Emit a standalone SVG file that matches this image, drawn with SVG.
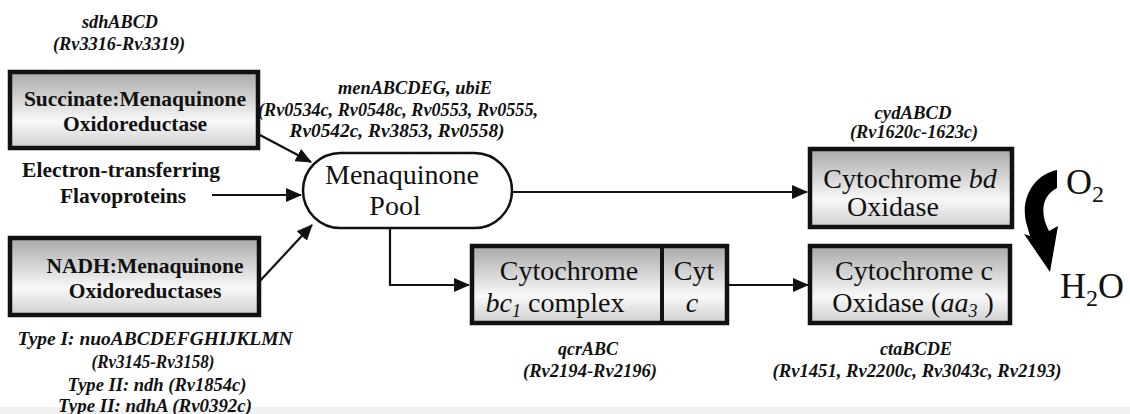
<svg xmlns="http://www.w3.org/2000/svg" width="1130" height="414" viewBox="0 0 1130 414">
<style>
.bl{font-family:"Liberation Serif",serif;font-weight:bold;font-size:21.5px;fill:#111;text-anchor:middle}
.gn{font-family:"Liberation Serif",serif;font-weight:bold;font-style:italic;font-size:18px;fill:#111;text-anchor:middle}
.rg{font-family:"Liberation Serif",serif;font-size:28px;fill:#111;text-anchor:middle}
.ox{font-family:"Liberation Serif",serif;font-size:36px;fill:#111}
.box{fill:url(#gr);stroke:#111;stroke-width:4.5}
.ln{fill:none;stroke:#111;stroke-width:2.2}
</style>
<defs>
<linearGradient id="gr" x1="0" y1="0" x2="0" y2="1">
<stop offset="0" stop-color="#a9a9a9"/>
<stop offset="0.65" stop-color="#f8f8f8"/>
<stop offset="1" stop-color="#cfcfcf"/>
</linearGradient>
<marker id="ah" markerUnits="userSpaceOnUse" markerWidth="16" markerHeight="14" refX="15" refY="7" orient="auto">
<path d="M0,0 L16,7 L0,14 Z" fill="#111"/>
</marker>
</defs>
<rect x="0" y="0" width="1130" height="414" fill="#fff"/>
<rect x="0" y="407" width="1130" height="7" fill="#f0f0f0"/>

<g id="connectors">
<line class="ln" x1="258" y1="134" x2="311" y2="162" marker-end="url(#ah)"/>
<line class="ln" x1="212" y1="195" x2="301" y2="195" marker-end="url(#ah)"/>
<line class="ln" x1="259" y1="282" x2="312" y2="225" marker-end="url(#ah)"/>
<line class="ln" x1="512" y1="192" x2="807" y2="192" marker-end="url(#ah)"/>
<polyline class="ln" points="390,228 390,285 469,285" marker-end="url(#ah)"/>
<line class="ln" x1="727" y1="285" x2="808" y2="285" marker-end="url(#ah)"/>
</g>

<g id="sdh-label">
<text class="gn" x="120" y="28" textLength="76" lengthAdjust="spacingAndGlyphs">sdhABCD</text>
<text class="gn" x="119" y="50" textLength="132" lengthAdjust="spacingAndGlyphs">(Rv3316-Rv3319)</text>
</g>

<g id="succinate">
<rect class="box" x="10" y="72" width="248" height="76"/>
<text class="bl" x="135" y="106">Succinate:Menaquinone</text>
<text class="bl" x="135" y="131">Oxidoreductase</text>
</g>

<g id="etf">
<text class="bl" x="121" y="177">Electron-transferring</text>
<text class="bl" x="123" y="203">Flavoproteins</text>
</g>

<g id="nadh">
<rect class="box" x="10" y="238" width="249" height="77"/>
<text class="bl" x="145" y="273">NADH:Menaquinone</text>
<text class="bl" x="145" y="298">Oxidoreductases</text>
</g>

<g id="nadh-label">
<text class="gn" x="155" y="345" textLength="275" lengthAdjust="spacingAndGlyphs">Type I: nuoABCDEFGHIJKLMN</text>
<text class="gn" x="153" y="368" textLength="123" lengthAdjust="spacingAndGlyphs">(Rv3145-Rv3158)</text>
<text class="gn" x="157" y="391" textLength="179" lengthAdjust="spacingAndGlyphs">Type II: ndh (Rv1854c)</text>
<text class="gn" x="155" y="412" textLength="194" lengthAdjust="spacingAndGlyphs">Type II: ndhA (Rv0392c)</text>
</g>

<g id="men-label">
<text class="gn" x="415" y="94" textLength="154" lengthAdjust="spacingAndGlyphs">menABCDEG, ubiE</text>
<text class="gn" x="398" y="116" textLength="280" lengthAdjust="spacingAndGlyphs">(Rv0534c, Rv0548c, Rv0553, Rv0555,</text>
<text class="gn" x="397" y="137" textLength="215" lengthAdjust="spacingAndGlyphs">Rv0542c, Rv3853, Rv0558)</text>
</g>

<g id="menaquinone-pool">
<rect x="303" y="153" width="209" height="75" rx="37.5" ry="37.5" fill="#fff" stroke="#111" stroke-width="2.5"/>
<text class="rg" x="402" y="184">Menaquinone</text>
<text class="rg" x="395" y="215">Pool</text>
</g>

<g id="cyd-label">
<text class="gn" x="913" y="119" font-size="16" textLength="77" lengthAdjust="spacingAndGlyphs">cydABCD</text>
<text class="gn" x="914" y="138" font-size="16" textLength="128" lengthAdjust="spacingAndGlyphs">(Rv1620c-1623c)</text>
</g>

<g id="cyt-bd">
<rect class="box" x="810" y="149" width="202" height="78"/>
<text class="rg" x="910" y="188">Cytochrome <tspan font-style="italic">bd</tspan></text>
<text class="rg" x="893" y="216">Oxidase</text>
</g>

<g id="cyt-bc1">
<rect class="box" x="472" y="246" width="255" height="77"/>
<line x1="662" y1="246" x2="662" y2="323" stroke="#111" stroke-width="4"/>
<text class="rg" x="569" y="280">Cytochrome</text>
<text class="rg" x="555" y="312"><tspan font-style="italic">bc</tspan><tspan font-style="italic" font-size="18" dy="5">1</tspan><tspan dy="-5"> complex</tspan></text>
<text class="rg" x="694" y="280">Cyt</text>
<text class="rg" x="692" y="312" font-style="italic">c</text>
</g>

<g id="qcr-label">
<text class="gn" x="588" y="355" textLength="60" lengthAdjust="spacingAndGlyphs">qcrABC</text>
<text class="gn" x="590" y="377" textLength="134" lengthAdjust="spacingAndGlyphs">(Rv2194-Rv2196)</text>
</g>

<g id="cyt-aa3">
<rect class="box" x="810" y="246" width="200" height="77"/>
<text class="rg" x="914" y="280">Cytochrome c</text>
<text class="rg" x="913" y="312">Oxidase (<tspan font-style="italic">aa</tspan><tspan font-style="italic" font-size="18" dy="5">3</tspan><tspan dy="-5"> )</tspan></text>
</g>

<g id="cta-label">
<text class="gn" x="916" y="355" textLength="72" lengthAdjust="spacingAndGlyphs">ctaBCDE</text>
<text class="gn" x="917" y="377" textLength="289" lengthAdjust="spacingAndGlyphs">(Rv1451, Rv2200c, Rv3043c, Rv2193)</text>
</g>

<g id="oxygen">
<path d="M1057,170 C1036,174 1020,196 1026,222 L1030,236 L1024,234 L1050,272 L1058,226 L1049,231 C1040,214 1041,196 1057,188 Z" fill="#000"/>
<text class="ox" x="1066" y="194">O<tspan font-size="24" dy="8">2</tspan></text>
<text class="ox" x="1060" y="298">H<tspan font-size="24" dy="8">2</tspan><tspan dy="-8">O</tspan></text>
</g>
</svg>
